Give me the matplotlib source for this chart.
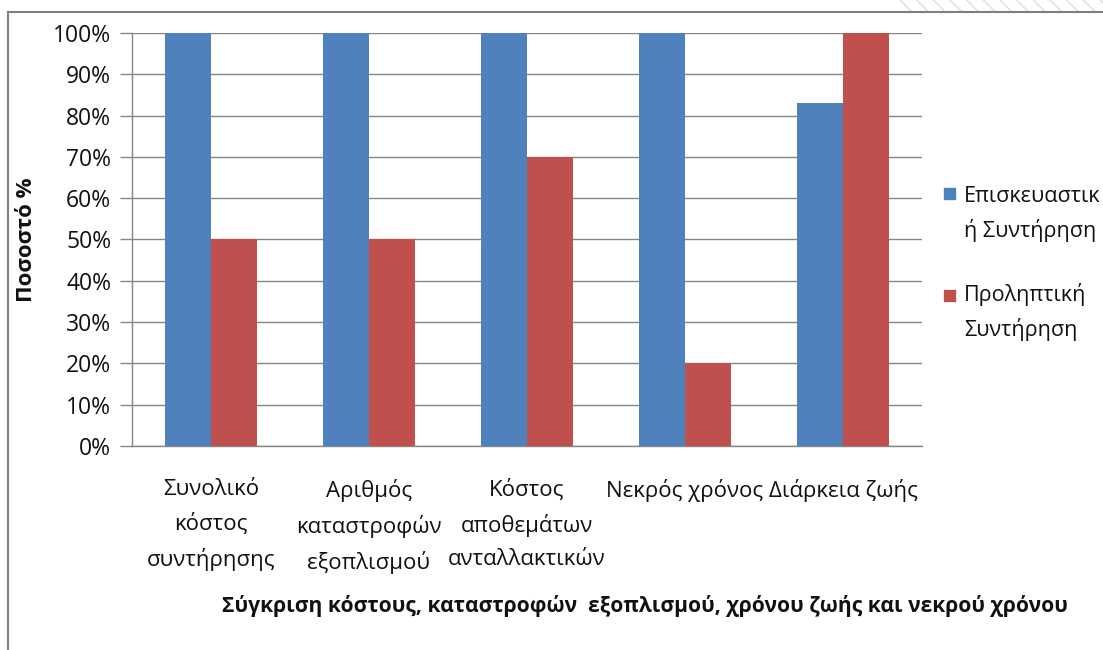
import matplotlib
matplotlib.use("Agg")
import matplotlib.pyplot as plt
import numpy as np

categories = ["Συνολικό\nκόστος\nσυντήρησης", "Αριθμός\nκαταστροφών\nεξοπλισμού",
              "Κόστος\nαποθεμάτων\nανταλλακτικών", "Νεκρός χρόνος", "Διάρκεια ζωής"]
series_names = ["Επισκευαστικ\nή Συντήρηση", "Προληπτική\nΣυντήρηση"]
repair = [100, 100, 100, 100, 83]
preventive = [50, 50, 70, 20, 100]
yticks = [0, 10, 20, 30, 40, 50, 60, 70, 80, 90, 100]
ytick_labels = [f"{v}%" for v in yticks]
xlabel = "Σύγκριση κόστους, καταστροφών  εξοπλισμού, χρόνου ζωής και νεκρού χρόνου"
ylabel = "Ποσοστό %"

blue = "#4F81BD"
red = "#C0504D"
grid_c = "#868686"

plt.rcParams['font.family'] = ['Open Sans', 'DejaVu Sans']

W, H = 1103, 650
fig = plt.figure(figsize=(W / 100, H / 100), dpi=100)
ax = fig.add_axes([132 / W, 1 - 446 / H, 790 / W, 413 / H])

x = np.arange(len(categories))
bw = 0.288
ax.bar(x - bw / 2, repair, bw, color=blue, zorder=3)
ax.bar(x + bw / 2, preventive, bw, color=red, zorder=3)

ax.set_xlim(-0.5, len(categories) - 0.5)
ax.set_ylim(0, 100)
ax.set_yticks(yticks)
ax.set_yticklabels(ytick_labels, fontsize=16.5, color="#111111")
ax.yaxis.grid(True, color=grid_c, linewidth=1, zorder=0)
ax.tick_params(axis='y', direction='out', length=9, width=1, color=grid_c, pad=6)
ax.tick_params(axis='x', length=0, pad=24)
ax.set_xticks(x)
ax.set_xticklabels(categories, fontsize=16, color="#111111", linespacing=1.72)
for s in ["top", "right"]:
    ax.spines[s].set_visible(False)
for s in ["left", "bottom"]:
    ax.spines[s].set_color(grid_c)
    ax.spines[s].set_linewidth(1)

fig.text(27 / W, 1 - 240 / H, ylabel, rotation=90, ha='center', va='center',
         fontsize=16, fontweight='bold', color="#111111")
fig.text(645 / W, 1 - 606 / H, xlabel, ha='center', va='center',
         fontsize=15.1, fontweight='bold', color="#111111")

# legend (manual, clipped at figure edge like reference)
fig.patches.append(plt.Rectangle((944 / W, 1 - 199 / H), 11 / W, 11 / H,
                                 transform=fig.transFigure, color=blue))
fig.text(964 / W, 1 - 214 / H, series_names[0], ha='left', va='center',
         fontsize=15.5, color="#111111", linespacing=1.7)
fig.patches.append(plt.Rectangle((944 / W, 1 - 301 / H), 11 / W, 11 / H,
                                 transform=fig.transFigure, color=red))
fig.text(964 / W, 1 - 312 / H, series_names[1], ha='left', va='center',
         fontsize=15.5, color="#111111", linespacing=1.7)

# chart frame lines
fig.add_artist(plt.Line2D([8 / W, 8 / W], [0, 1 - 12 / H], transform=fig.transFigure,
                          color="#7f7f7f", linewidth=1.5))
fig.add_artist(plt.Line2D([8 / W, 1], [1 - 12 / H, 1 - 12 / H], transform=fig.transFigure,
                          color="#7f7f7f", linewidth=1.5))
# faint hatched strip at the top right (background artefact)
fig.patches.append(plt.Rectangle((900 / W, 1 - 11 / H), 203 / W, 11 / H,
                                 transform=fig.transFigure, facecolor="none",
                                 edgecolor="#dddddd", hatch="\\\\", linewidth=0))

fig.savefig("out.png", dpi=100)
